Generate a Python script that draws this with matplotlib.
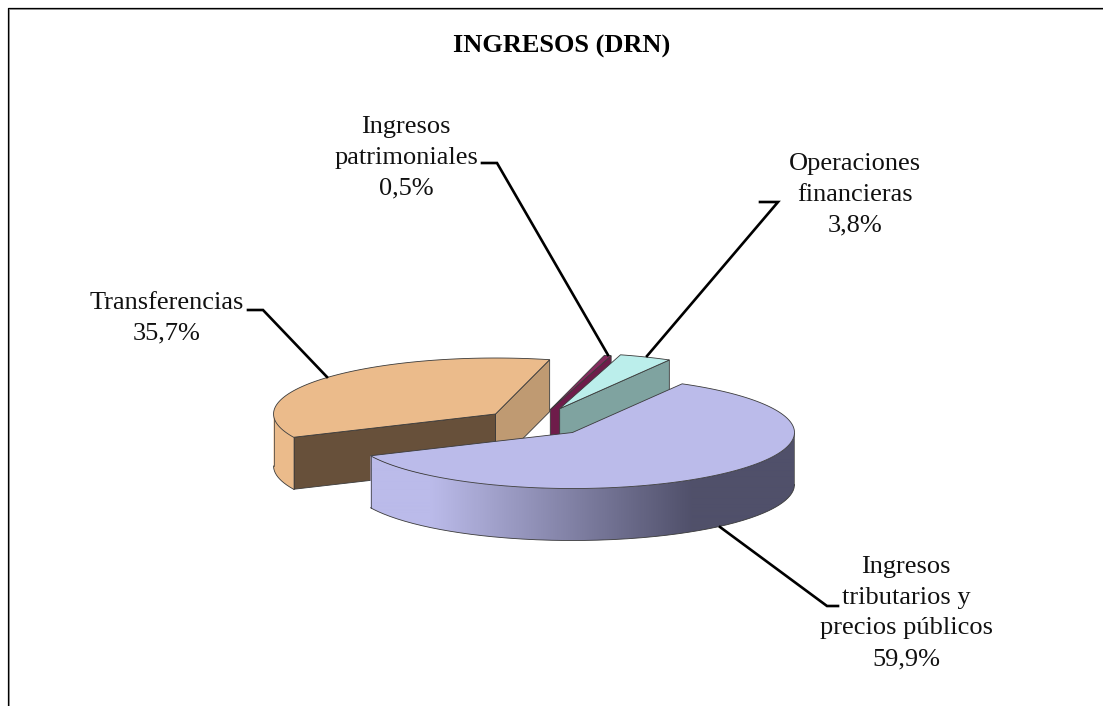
import matplotlib
matplotlib.use('Agg')
import matplotlib.pyplot as plt
from matplotlib.colors import LinearSegmentedColormap
from matplotlib.patches import Polygon
import numpy as np

plt.rcParams['font.family'] = ['Liberation Serif', 'DejaVu Serif']

title = 'INGRESOS (DRN)'
names = ['Ingresos\ntributarios y\nprecios públicos', 'Transferencias', 'Ingresos\npatrimoniales', 'Operaciones\nfinancieras']
values = [59.9, 35.7, 0.5, 3.8]

# pie drawn in pixel coords, y goes down
top_colors = ['#BBBBEA', '#EBBB8B', '#852B5E', '#BBEEEB']
rim_colors = ['#BBBBEA', '#EBBB8B', '#7B2050', '#7FA3A0']
start_face = [None, '#67503A', None, None]
end_face = [None, '#BF9A72', '#6E1C4A', '#7FA3A0']
explode = [0.24, 0.24, 0.24, 0.27]

cx, cy = 536.5, 422.6
rx, ry = 222, 56
depth = 52
start = 60.4
edge = '#3A3A3A'

label_pos = [(906, 613), (167, 318), (406, 158), (855, 195)]
leaders = [[(838, 606), (827, 606), (720, 527)],
           [(248, 310), (263, 310), (327, 377)],
           [(482, 163), (497, 163), (608, 355)],
           [(760, 202), (778, 202), (647, 356)]]

fig = plt.figure(figsize=(11.03, 7.06), dpi=100)
ax = fig.add_axes([0, 0, 1, 1])
ax.set_xlim(0, 1103)
ax.set_ylim(706, 0)
ax.axis('off')

# frame, only top and left are in the crop
ax.plot([9, 9, 1103], [706, 9, 9], color='#A0A0A0', lw=0.72, zorder=1)
ax.plot([8, 8, 1103], [706, 8, 8], color='black', lw=0.9, zorder=1)


def arc(x0, y0, a1, a2):
    aa = np.radians(np.linspace(a1, a2, 200))
    return np.column_stack([x0 + rx * np.cos(aa), y0 - ry * np.sin(aa)])


def draw_face(x0, y0, a, color, z):
    end = arc(x0, y0, a, a)[0]
    pts = [(x0, y0), end, end + [0, depth], (x0, y0 + depth)]
    ax.add_patch(Polygon(pts, fc=color, ec=edge, lw=0.6, zorder=z))


def draw_rim(i, x0, y0, a1, a2, z):
    top = arc(x0, y0, a1, a2)
    bottom = top + [0, depth]
    outline = np.vstack([top, bottom[::-1]])
    if i == 0:
        # purple rim darkens from left to right, flat again past x=693
        patch = Polygon(outline, fc='none', ec='none', zorder=z)
        ax.add_patch(patch)
        ramp = np.clip((np.linspace(370, 794, 424) - 430) / (693 - 430), 0, 1).reshape(1, -1)
        img = ax.imshow(ramp, cmap=LinearSegmentedColormap.from_list('rim', ['#BBBBEA', '#50506A']),
                        extent=(370, 794, 560, 380), aspect='auto', zorder=z, interpolation='bilinear')
        img.set_clip_path(patch)
        ax.set_xlim(0, 1103)
        ax.set_ylim(706, 0)
    else:
        ax.add_patch(Polygon(outline, fc=rim_colors[i], ec='none', zorder=z))
    ax.plot(bottom[:, 0], bottom[:, 1], color=edge, lw=0.6, zorder=z + 0.1)
    for p in (top[0], top[-1]):
        ax.plot([p[0], p[0]], [p[1], p[1] + depth], color=edge, lw=0.5, zorder=z + 0.1)


def draw_slice(i, a_hi, a_lo, z):
    # slice runs clockwise from a_hi down to a_lo
    mid = np.radians((a_hi + a_lo) / 2)
    x0 = cx + explode[i] * rx * np.cos(mid)
    y0 = cy - explode[i] * ry * np.sin(mid)

    if end_face[i]:
        draw_face(x0, y0, a_lo, end_face[i], z)
    if start_face[i]:
        draw_face(x0, y0, a_hi, start_face[i], z + 0.1)

    # outer rim, only the part facing us (180 to 360 degrees)
    if i == 0:
        draw_rim(i, x0, y0, a_lo + 360, 360, z + 0.2)
    elif a_hi > 180:
        draw_rim(i, x0, y0, 180, a_hi, z + 0.2)

    pts = np.vstack([[(x0, y0)], arc(x0, y0, a_hi, a_lo)])
    ax.add_patch(Polygon(pts, fc=top_colors[i], ec=edge, lw=0.6, zorder=z + 0.4))


bounds = [start]
for v in values:
    bounds.append(bounds[-1] - 360 * v / sum(values))
bounds = [bounds[0], bounds[1]] + [b + 360 for b in bounds[2:]]

# back to front: transferencias, patrimoniales, operaciones, tributarios
draw_slice(1, bounds[1] + 360, bounds[2], 2)
draw_slice(2, bounds[2], bounds[3], 3)
draw_slice(3, bounds[3], bounds[4], 4)
draw_slice(0, bounds[0], bounds[1], 5)

for pts in leaders:
    xs, ys = zip(*pts)
    ax.plot(xs, ys, color='black', lw=1.9, solid_joinstyle='miter', zorder=8)

for name, v, (x, y) in zip(names, values, label_pos):
    txt = name + '\n' + f'{v:.1f}'.replace('.', ',') + '%'
    ax.text(x, y, txt, ha='center', va='center', fontsize=19, color='#111111',
            linespacing=1.52, zorder=9)

ax.text(562, 46, title, ha='center', va='center', fontsize=19, fontweight='bold', zorder=9)

fig.savefig('out.png', dpi=100)
